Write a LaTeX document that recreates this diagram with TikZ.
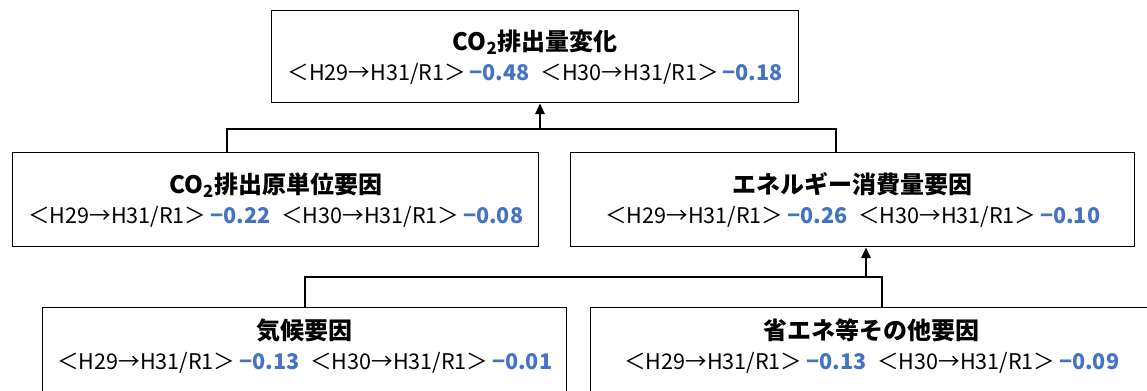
\documentclass[tikz,border=0pt]{standalone}
\usepackage{fontspec}
\setmainfont{Noto Sans CJK JP}
\usetikzlibrary{arrows.meta}
\definecolor{valblue}{HTML}{4472C4}
\newcommand{\val}[1]{\textcolor{valblue}{\bfseries #1}}
\newcommand{\per}[1]{＜H#1→H31/R1＞}
\newcommand{\factline}[2]{\per{29}\,\val{#1}\enspace\per{30}\,\val{#2}}
\newcommand{\ttl}[1]{{\fontsize{18}{22}\selectfont\bfseries #1}}
\tikzset{
  box/.style={draw=black, line width=1.1pt, fill=white, anchor=north west,
    inner sep=0pt, align=center, font=\fontsize{16.2}{22.5}\selectfont},
  lowbox/.style={box, text depth=16pt},
  conn/.style={line width=1.5pt},
  arr/.style={line width=1.5pt, -{Triangle[length=8pt,width=7pt]}},
}
\begin{document}
\begin{tikzpicture}[x=0.75pt,y=-0.75pt]
\clip (0,0) rectangle (1147,391);
\fill[white] (0,0) rectangle (1147,391);
% boxes
\node[box, minimum width=527*0.75pt, minimum height=92*0.75pt] (top) at (271,10)
  {\ttl{CO\textsubscript{2}排出量変化}\\ \factline{−0.48}{−0.18}};
\node[box, minimum width=526*0.75pt, minimum height=94*0.75pt] (ml) at (12,152)
  {\ttl{CO\textsubscript{2}排出原単位要因}\\ \factline{−0.22}{−0.08}};
\node[box, minimum width=564*0.75pt, minimum height=94*0.75pt] (mr) at (570,152)
  {\ttl{エネルギー消費量要因}\\ \factline{−0.26}{−0.10}};
\node[lowbox, minimum width=524*0.75pt, minimum height=94*0.75pt] (bl) at (42,307)
  {\ttl{気候要因}\\ \factline{−0.13}{−0.01}};
\node[lowbox, minimum width=562*0.75pt, minimum height=94*0.75pt] (br) at (590,307)
  {\ttl{省エネ等その他要因}\\ \factline{−0.13}{−0.09}};
% upper connectors
\coordinate (busA) at (540,129);
\coordinate (aL) at (227,129);
\coordinate (aR) at (836,129);
\draw[conn] (aL |- ml.north) -- (aL) -- (aR) -- (aR |- mr.north);
\draw[arr] (busA) -- (busA |- top.south);
% lower connectors
\coordinate (busB) at (866,277);
\coordinate (bL) at (305,277);
\coordinate (bR) at (882,277);
\draw[conn] (bL |- bl.north) -- (bL) -- (bR) -- (bR |- br.north);
\draw[arr] (busB) -- (busB |- mr.south);
\end{tikzpicture}
\end{document}
